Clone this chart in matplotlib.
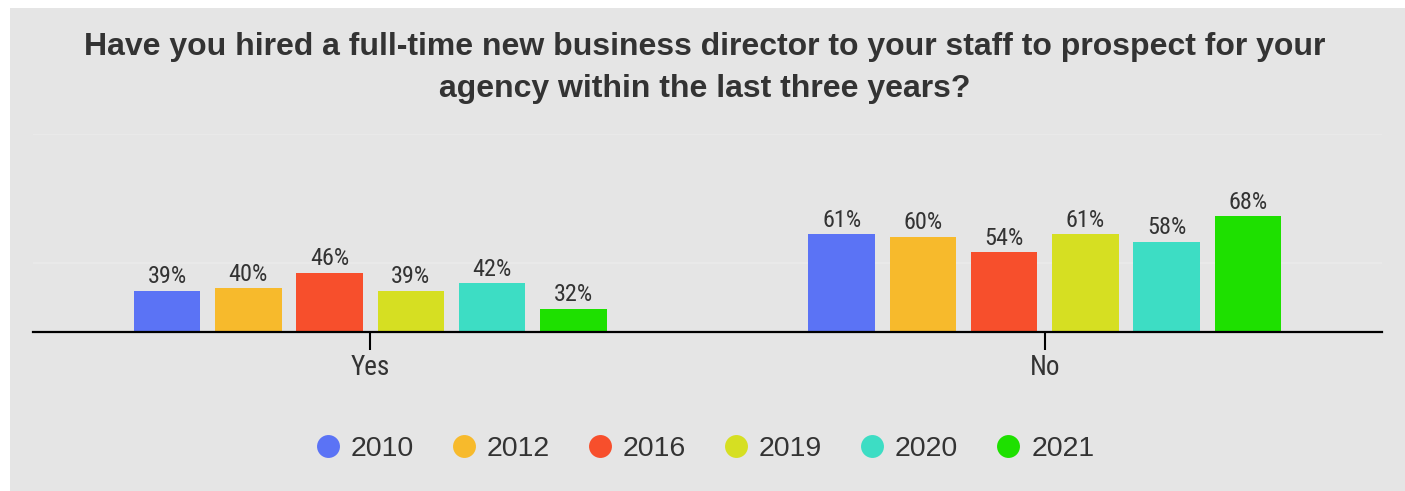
import matplotlib
matplotlib.use("Agg")
import matplotlib.pyplot as plt
import numpy as np
from matplotlib.lines import Line2D
from matplotlib.patches import Rectangle

# ── Data ──────────────────────────────────────────────────────────
ANSWERS = ["Yes", "No"]
YEARS = ["2010", "2012", "2016", "2019", "2020", "2021"]
PCT_2010 = [39, 61]
PCT_2012 = [40, 60]
PCT_2016 = [46, 54]
PCT_2019 = [39, 61]
PCT_2020 = [42, 58]
PCT_2021 = [32, 68]
SERIES = [PCT_2010, PCT_2012, PCT_2016, PCT_2019, PCT_2020, PCT_2021]

TITLE = ("Have you hired a full-time new business director to your staff to prospect for your\n"
         "agency within the last three years?")

# ── Style ─────────────────────────────────────────────────────────
BG = "#E5E5E5"
GRID = "#EBEBEB"
TXT = "#333333"
COLORS = ["#5B73F5", "#F7BA2C", "#F74F2C", "#D6DF22", "#3DDDC4", "#1EE000"]

W, H = 1405, 491
fig = plt.figure(figsize=(W / 100, H / 100), dpi=100)
fig.patch.set_facecolor("white")
fig.add_artist(Rectangle((10 / W, 0), 1, (H - 8) / H, transform=fig.transFigure,
                         fc=BG, ec="none", zorder=0))

ax = fig.add_axes([33 / W, (H - 332) / H, (1382 - 33) / W, (332 - 134) / H])
ax.set_facecolor("none")

x = np.arange(len(ANSWERS))
pitch, bar_w = 0.1204, 0.0986
for j, (vals, col, yr) in enumerate(zip(SERIES, COLORS, YEARS)):
    xs = x + (j - (len(YEARS) - 1) / 2) * pitch
    bars = ax.bar(xs, vals, width=bar_w, color=col, label=yr, zorder=2)
    for b, v in zip(bars, vals):
        ax.annotate(f"{v}%", (b.get_x() + b.get_width() / 2, v),
                    xytext=(0, 5.5), textcoords="offset points",
                    ha="center", va="baseline", fontsize=17.5,
                    family="Roboto Condensed", color=TXT)

ax.set_xlim(-0.5, 1.5)
ax.set_ylim(23.0, 100)
ax.set_yticks([50, 100])
ax.yaxis.grid(True, color=GRID, lw=1.2, zorder=0)
ax.tick_params(axis="y", left=False, labelleft=False)
ax.set_xticks(x, ANSWERS)
ax.tick_params(axis="x", length=13, width=1.5, color="black", pad=3,
               labelsize=19.5, labelcolor=TXT)
for lbl in ax.get_xticklabels():
    lbl.set_family("Roboto Condensed")
for side in ("top", "left", "right"):
    ax.spines[side].set_visible(False)
ax.spines["bottom"].set_color("black")
ax.spines["bottom"].set_linewidth(1.6)
ax.spines["bottom"].set_zorder(3)

fig.text(705 / W, 1 - 32 / H, TITLE, ha="center", va="top", fontsize=23,
         fontweight="bold", family="Liberation Sans", color=TXT, linespacing=1.5)

handles = [Line2D([], [], ls="none", marker="o", ms=16.5, mfc=c, mec="none")
           for c in COLORS]
leg = fig.legend(handles, YEARS, loc="center", bbox_to_anchor=(704 / W, 42 / H),
                 ncol=6, frameon=False, handlelength=1.0, handletextpad=0.3,
                 columnspacing=1.26, prop={"family": "Liberation Sans", "size": 20.5})
for t in leg.get_texts():
    t.set_color(TXT)

fig.savefig("out.png", dpi=100, facecolor="white")
